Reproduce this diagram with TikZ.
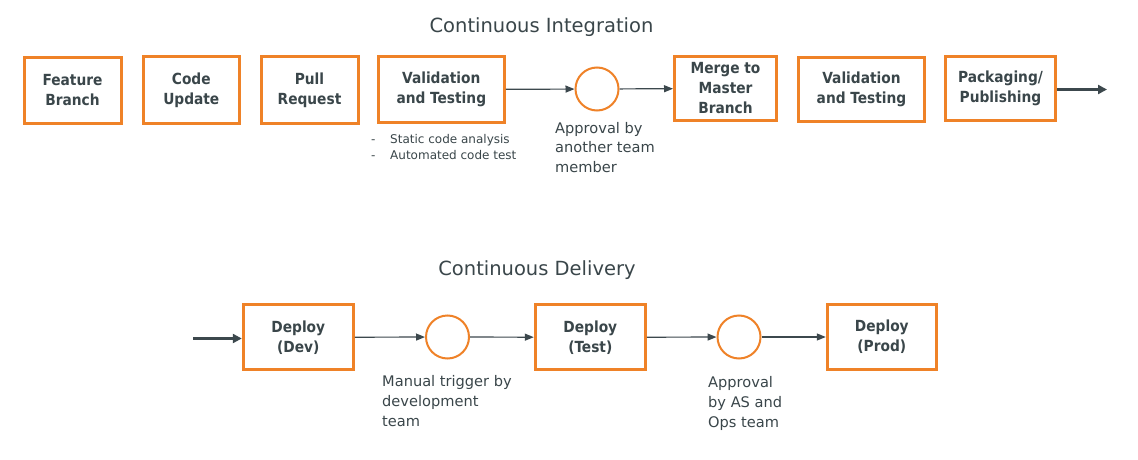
\documentclass[tikz,border=0pt]{standalone}
\usepackage{fontspec}
\setmainfont{DejaVu Sans Condensed}
\newfontfamily\regfont{DejaVu Sans}
\usetikzlibrary{arrows.meta}
\definecolor{orng}{RGB}{239,130,40}
\definecolor{txtc}{RGB}{58,70,74}
\definecolor{linec}{RGB}{60,72,77}
\tikzset{
  stepbox/.style={draw=orng, line width=3pt, align=center, inner sep=0pt,
    text=txtc, font=\fontsize{15.3}{20}\selectfont\bfseries, minimum height=66pt},
  gate/.style={draw=orng, line width=2pt, circle, minimum size=43pt, inner sep=0pt},
  conn/.style={draw=linec, line width=1.2pt, -{Triangle[length=9pt,width=7pt]}},
  bigarrow/.style={draw=linec, line width=3pt, -{Triangle[length=9pt,width=9pt]}},
  note/.style={align=left, inner sep=0pt, text=txtc, font=\regfont\fontsize{14.6}{19.7}\selectfont},
  small/.style={align=left, inner sep=0pt, text=txtc, font=\regfont\fontsize{12}{16}\selectfont},
  title/.style={inner sep=0pt, text=txtc, font=\regfont\fontsize{19.5}{24}\selectfont}
}
\begin{document}
\begin{tikzpicture}[x=1pt,y=-1pt]
\useasboundingbox[fill=white] (0,0) rectangle (1138,460);
% titles
\node[title, anchor=base] (t1) at (541.5,33) {Continuous Integration};
\node[title, anchor=base] (t2) at (537,275) {Continuous Delivery};
% row 1
\node[stepbox, minimum width=97pt] (fb) at (72.5,90.5) {Feature\\Branch};
\node[stepbox, minimum width=96pt] (cu) at (191.3,90) {Code\\Update};
\node[stepbox, minimum width=97pt] (pr) at (309.5,90) {Pull\\Request};
\node[stepbox, minimum width=126pt] (vt1) at (441.3,89.5) {Validation\\and Testing};
\node[gate] (c1) at (597,89) {};
\node[stepbox, minimum width=102pt, minimum height=64pt] (mm) at (725.5,88.5) {Merge to\\Master\\Branch};
\node[stepbox, minimum width=126pt, minimum height=64pt] (vt2) at (861.5,89.5) {Validation\\and Testing};
\node[stepbox, minimum width=110pt, minimum height=64pt] (pp) at (1000.5,88.5) {Packaging/\\Publishing};
\coordinate (out) at (1107,89.5);
\draw[conn] (vt1) -- (c1);
\draw[conn] (c1) -- (mm);
\draw[bigarrow] (pp.east |- out) -- (out);
\node[small, anchor=north west] (bul) at (371,134.5)
  {\makebox[19pt][l]{-}Static code analysis\\\makebox[19pt][l]{-}Automated code test};
\node[note, anchor=north west] (ap1) at (555,122)
  {Approval by\\another team\\member};
% row 2
\coordinate (in) at (193,338.5);
\node[stepbox, minimum width=110pt, minimum height=65pt] (dev) at (298.3,337.3) {Deploy\\(Dev)};
\node[gate] (c3) at (447.5,337) {};
\node[stepbox, minimum width=110pt, minimum height=65pt] (tst) at (590.3,337.3) {Deploy\\(Test)};
\node[gate] (c4) at (739,337) {};
\node[stepbox, minimum width=109pt, minimum height=65pt] (prd) at (881.8,337) {Deploy\\(Prod)};
\draw[bigarrow] (in) -- (dev.west |- in);
\draw[conn] (dev) -- (c3);
\draw[conn] (c3) -- (tst);
\draw[conn] (tst) -- (c4);
\draw[conn] (c4) -- (prd);
\node[note, anchor=north west] (mt) at (382,375.5)
  {Manual trigger by\\development\\team};
\node[note, anchor=north west] (ap2) at (708,376.5)
  {Approval\\by AS and\\Ops team};
\end{tikzpicture}
\end{document}
